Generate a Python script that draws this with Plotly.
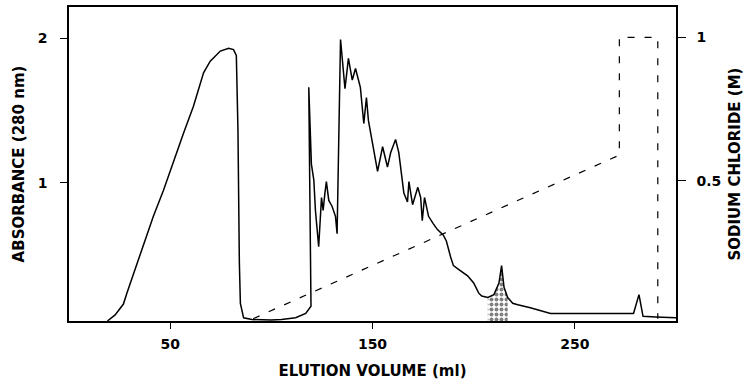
import plotly.graph_objects as go

# Absorbance at 280 nm (left axis) vs elution volume (ml)
elution_ml = [19.0, 22.8, 26.9, 28.6, 36.0, 41.7, 46.7, 51.6, 56.5, 61.5, 66.5, 69.8, 74.8, 78.9, 81.3,
              82.7, 83.5, 84.2, 84.7, 86.3, 90.4, 100.0, 105.0, 112.0, 117.0, 119.6, 118.5, 119.8, 121.0,
              121.8, 123.4, 124.8, 125.6, 126.4, 127.2, 128.4, 130.0, 131.7, 132.5, 134.2, 135.0, 136.4,
              138.1, 140.0, 141.6, 144.0, 145.7, 147.0, 148.0, 150.0, 152.5, 155.0, 157.4, 159.0, 161.4,
              163.0, 165.5, 167.3, 168.0, 169.8, 172.4, 173.8, 174.6, 175.7, 177.7, 180.0, 182.0, 185.0,
              186.5, 188.6, 190.0, 192.0, 195.0, 197.0, 200.0, 202.5, 204.0, 207.0, 210.0, 212.5, 213.8,
              215.0, 216.8, 219.3, 221.8, 228.0, 238.0, 253.0, 270.0, 279.0, 281.7, 283.7, 290.0, 300.0]
absorbance = [0.048, 0.09, 0.165, 0.24, 0.54, 0.77, 0.95, 1.15, 1.34, 1.53, 1.76, 1.84, 1.91, 1.93, 1.92,
              1.88, 1.37, 0.45, 0.17, 0.07, 0.058, 0.055, 0.058, 0.07, 0.10, 0.15, 1.66, 1.13, 1.02,
              0.81, 0.56, 0.90, 0.81, 0.92, 1.01, 0.88, 0.84, 0.77, 0.65, 1.99, 1.85, 1.65,
              1.86, 1.71, 1.79, 1.66, 1.41, 1.59, 1.43, 1.28, 1.08, 1.25, 1.11, 1.21, 1.30,
              1.21, 0.93, 0.87, 1.01, 0.85, 0.97, 0.90, 0.74, 0.90, 0.77, 0.72, 0.68, 0.64,
              0.60, 0.49, 0.43, 0.41, 0.38, 0.36, 0.31, 0.24, 0.22, 0.21, 0.23, 0.31, 0.43,
              0.28, 0.21, 0.17, 0.16, 0.14, 0.10, 0.10, 0.10, 0.10, 0.23, 0.08, 0.075, 0.07]

# Shaded fraction under the small peak
shaded_ml = [207.0, 210.0, 212.5, 213.8, 215.0, 216.8]
shaded_abs = [0.21, 0.23, 0.31, 0.43, 0.28, 0.21]

# Sodium chloride gradient (right axis)
nacl_ml = [91.0, 272.0, 272.0, 291.0, 291.0]
nacl_M = [0.02, 0.59, 1.0, 1.0, 0.02]

x_ticks = [50, 150, 250]
y_ticks = [1, 2]
y2_ticks = [0.5, 1]
y2_ticktext = ["0.5", "1"]

FONT = "DejaVu Sans"

fig = go.Figure()
fig.add_trace(go.Scatter(x=shaded_ml, y=shaded_abs, mode="lines", fill="tozeroy",
                         line=dict(width=0, color="black"),
                         fillpattern=dict(shape=".", fgcolor="black", bgcolor="white", size=5, solidity=0.5),
                         hoverinfo="skip", showlegend=False))
fig.add_trace(go.Scatter(x=elution_ml, y=absorbance, mode="lines",
                         line=dict(color="black", width=1.5), showlegend=False, name="A280"))
fig.add_trace(go.Scatter(x=nacl_ml, y=nacl_M, mode="lines", yaxis="y2",
                         line=dict(color="black", width=1.2, dash="7px,10px"), showlegend=False, name="NaCl"))

tickfont = dict(family=FONT, size=14, color="black", weight="bold")
titlefont = dict(family=FONT, size=15, color="black", weight="bold")

fig.update_layout(
    width=744, height=380,
    margin=dict(l=69, r=68, t=7, b=59),
    paper_bgcolor="white", plot_bgcolor="white",
    xaxis=dict(range=[0, 300], tickvals=x_ticks, ticks="outside", ticklen=6, tickwidth=1.2,
               tickcolor="black", showline=True, linewidth=1.5, linecolor="black", mirror=True,
               showgrid=False, zeroline=False, tickfont=tickfont, ticklabelstandoff=3,
               automargin=False,
               title=dict(text="ELUTION VOLUME (ml)", font=titlefont, standoff=15)),
    yaxis=dict(range=[0.048, 2.214], tickvals=y_ticks, ticks="outside", ticklen=7, tickwidth=1.2,
               tickcolor="black", showline=True, linewidth=1.5, linecolor="black", mirror=True,
               showgrid=False, zeroline=False, tickfont=tickfont, ticklabelstandoff=10,
               automargin=False,
               title=dict(text="ABSORBANCE (280 nm)", font=titlefont, standoff=9)),
    yaxis2=dict(range=[0.012, 1.106], overlaying="y", side="right", tickvals=y2_ticks,
                ticktext=y2_ticktext, ticks="outside", ticklen=8, tickwidth=1.2, tickcolor="black",
                showline=True, linewidth=1.5, linecolor="black", showgrid=False, zeroline=False,
                tickfont=tickfont, ticklabelstandoff=8, automargin=False,
                title=dict(text="SODIUM CHLORIDE (M)", font=titlefont, standoff=18)),
)

fig.write_html("out.html")
